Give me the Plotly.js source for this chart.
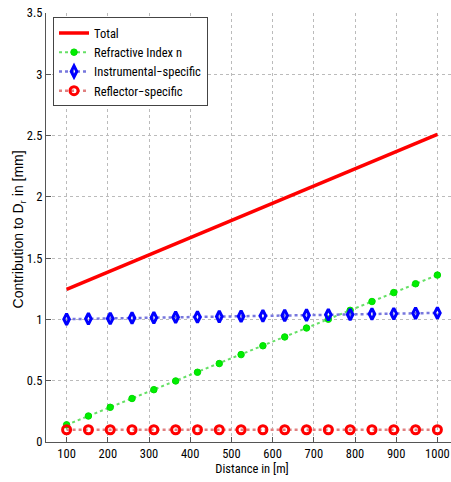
<!DOCTYPE html>
<html>
<head>
<meta charset="utf-8">
<script src="https://cdn.plot.ly/plotly-3.0.1.min.js"></script>
<style>
html,body{margin:0;padding:0;overflow:hidden;background:#fff;}
#chart{width:460px;height:482px;}
</style>
</head>
<body>
<div id="chart"></div>
<script>
const distance = [100, 152.94, 205.88, 258.82, 311.76, 364.71, 417.65, 470.59, 523.53, 576.47, 629.41, 682.35, 735.29, 788.24, 841.18, 894.12, 947.06, 1000];
const total = [1.245, 1.319, 1.393, 1.467, 1.542, 1.616, 1.690, 1.764, 1.839, 1.913, 1.987, 2.061, 2.136, 2.210, 2.284, 2.359, 2.434, 2.510];
const refractive = [0.14, 0.212, 0.283, 0.355, 0.427, 0.498, 0.569, 0.640, 0.713, 0.785, 0.857, 0.930, 1.002, 1.074, 1.146, 1.219, 1.291, 1.362];
const instrumental = [1.002, 1.005, 1.008, 1.011, 1.014, 1.017, 1.020, 1.023, 1.026, 1.029, 1.032, 1.035, 1.038, 1.041, 1.044, 1.047, 1.050, 1.053];
const reflector = [0.1, 0.1, 0.1, 0.1, 0.1, 0.1, 0.1, 0.1, 0.1, 0.1, 0.1, 0.1, 0.1, 0.1, 0.1, 0.1, 0.1, 0.1];
const seriesNames = ["Total", "Refractive Index n", "Instrumental\u2212specific", "Reflector\u2212specific"];
const xTitle = "Distance in [m]";
const yTitle = "Contribution to D<sub>r</sub> in [mm]";

const FONT = "Roboto Condensed, Liberation Sans, sans-serif";

const traces = [
  {x: distance, y: total, name: seriesNames[0], mode: "lines",
   line: {color: "#ff0000", width: 3.5}},
  {x: distance, y: refractive, name: seriesNames[1], mode: "lines+markers",
   line: {color: "#66e066", width: 2, dash: "dot"},
   marker: {symbol: "circle", size: 6.5, color: "#00ee00", line: {color: "#00dd00", width: 1}}},
  {x: distance, y: instrumental, name: seriesNames[2], mode: "lines+markers",
   line: {color: "#7777dd", width: 2.5, dash: "dot"},
   marker: {symbol: "diamond-tall-open", size: 8, color: "#0000ff", line: {color: "#0000ff", width: 3}}},
  {x: distance, y: reflector, name: seriesNames[3], mode: "lines+markers",
   line: {color: "#e08080", width: 2.5, dash: "dot"},
   marker: {symbol: "circle-open", size: 8, color: "#ff0000", line: {color: "#ff0000", width: 3}}}
];

const layout = {
  width: 460, height: 482,
  margin: {l: 46, r: 2, t: 13, b: 40, pad: 0},
  paper_bgcolor: "#ffffff", plot_bgcolor: "#ffffff",
  font: {family: FONT, size: 12.5, color: "#000"},
  showlegend: true,
  legend: {x: 0.017, y: 0.99, xanchor: "left", yanchor: "top",
           bgcolor: "#ffffff", bordercolor: "#444", borderwidth: 1,
           font: {family: FONT, size: 12.5}, tracegroupgap: 0, itemwidth: 30},
  xaxis: {
    range: [50, 1050], tickvals: [100,200,300,400,500,600,700,800,900,1000],
    showline: true, linecolor: "#555", linewidth: 1, mirror: false,
    ticks: "inside", ticklen: 5, tickcolor: "#555",
    showgrid: true, gridcolor: "#bbbbbb", griddash: "dot", gridwidth: 1,
    zeroline: false, tickfont: {family: FONT, size: 12.5},
    title: {text: xTitle, font: {family: FONT, size: 12.5}, standoff: 4}
  },
  yaxis: {
    range: [0, 3.5], dtick: 0.5, tick0: 0,
    showline: true, linecolor: "#555", linewidth: 1, mirror: false,
    ticks: "inside", ticklen: 5, tickcolor: "#555",
    showgrid: true, gridcolor: "#bbbbbb", griddash: "dot", gridwidth: 1,
    zeroline: false, tickfont: {family: FONT, size: 12.5}
  },
  annotations: [{
    text: yTitle, xref: "paper", yref: "paper",
    x: -0.066, y: 0.495, xanchor: "center", yanchor: "middle",
    textangle: -90, showarrow: false,
    font: {family: "Liberation Sans, Arial, sans-serif", size: 14}
  }]
};

Plotly.newPlot("chart", traces, layout, {displayModeBar: false, staticPlot: true});
</script>
</body>
</html>
